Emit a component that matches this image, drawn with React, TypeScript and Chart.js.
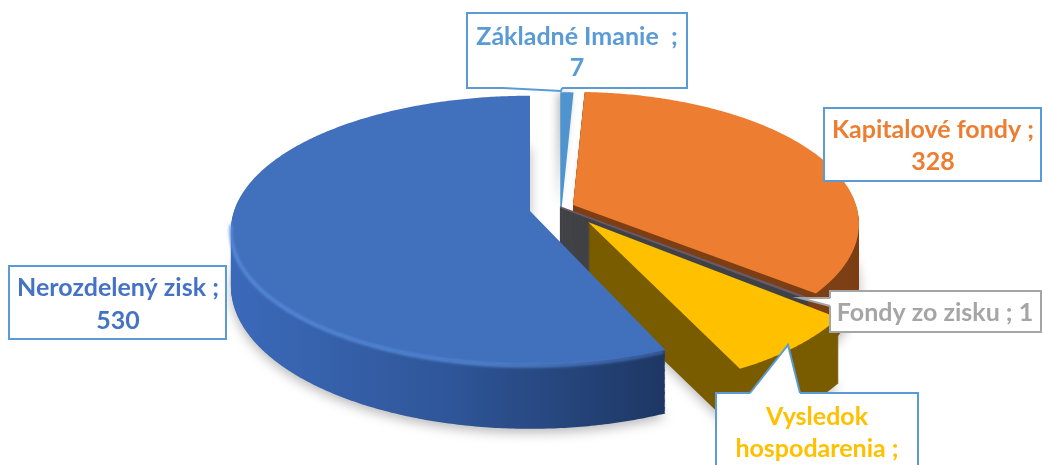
import React, { useEffect, useRef } from "react";
import { Chart, registerables } from "chart.js";

Chart.register(...registerables);

const categories = ["Základné Imanie", "Kapitalové fondy", "Fondy zo zisku", "Vysledok hospodarenia", "Nerozdelený zisk"];
const seriesValues = [7, 328, 1, 72, 530];
const labelColors = ["#5b9bd5", "#ed7d31", "#a5a5a5", "#ffc000", "#4472c4"];

const FONT = 'bold 25px Lato, "Open Sans", sans-serif';
const DEPTH_FACTOR = 7;

type Look = {
  ax: number; ay: number; r: number; s: number; h: number;
  top: string; wall: string | string[];
  m?: [number, number, number, number];
};

// Per-slice drawing look: explosion (apex on screen), radius, tilt, extrusion.
const looks: Look[] = [
  { ax: 561, ay: 207, r: 285, s: 0.457, h: 0, top: "#4f94cf", wall: "#3a6d9c" },
  { ax: 573, ay: 205, r: 283, s: 0.457, h: 58, top: "#ed7d31", wall: "#7d3f14" },
  { ax: 560, ay: 207, r: 288, s: 0.46, h: 62, top: "#6b5968", wall: "#404246" },
  { ax: 588, ay: 222, r: 1, s: 1, h: 65, top: "#ffc000", wall: "#7a5c00", m: [290, 40, -9.3, 164] },
  { ax: 530, ay: 211, r: 296, s: 0.445, h: 55, top: "#4170bd", wall: ["#3b69b9", "#2f5699", "#1e3764"] },
];
const drawOrder = [0, 1, 2, 3, 4];

function project(l: Look, a: number, dz = 0): [number, number] {
  const c = Math.cos(a);
  const sn = Math.sin(a);
  if (l.m) {
    return [l.ax + l.m[0] * c + l.m[1] * sn, l.ay + l.m[2] * c + l.m[3] * sn + dz];
  }
  const k = DEPTH_FACTOR / (DEPTH_FACTOR - sn);
  return [l.ax + l.r * c * k, l.ay + l.r * sn * l.s * k + dz * k];
}

function tracePie(ctx: CanvasRenderingContext2D, l: Look, a0: number, a1: number, dz: number) {
  const steps = Math.max(2, Math.ceil((a1 - a0) / 0.01));
  ctx.beginPath();
  ctx.moveTo(l.ax, l.ay + dz);
  for (let i = 0; i <= steps; i++) {
    const p = project(l, a0 + ((a1 - a0) * i) / steps, dz);
    ctx.lineTo(p[0], p[1]);
  }
  ctx.closePath();
}

const pie3d = {
  id: "pie3d",
  beforeDatasetDraw(chart: any) {
    const ctx: CanvasRenderingContext2D = chart.ctx;
    const arcs = chart.getDatasetMeta(0).data;
    for (const i of drawOrder) {
      const l = looks[i];
      const a0 = arcs[i].startAngle;
      const a1 = arcs[i].endAngle;
      const thin = a1 - a0 < 0.05;
      ctx.save();
      // extruded body: a stack of copies of the slice, bottom first
      if (Array.isArray(l.wall)) {
        const g = ctx.createLinearGradient(232, 0, 663, 0);
        l.wall.forEach((c, n) => g.addColorStop(n / (l.wall.length - 1), c));
        ctx.fillStyle = g;
      } else {
        ctx.fillStyle = l.wall;
        ctx.strokeStyle = l.wall;
        ctx.lineWidth = 1.5;
      }
      for (let dz = l.h; dz > 0; dz -= 1) {
        if (dz === l.h) {
          ctx.shadowColor = "rgba(0,0,0,0.28)";
          ctx.shadowBlur = 12;
          ctx.shadowOffsetY = 4;
        } else {
          ctx.shadowColor = "transparent";
        }
        tracePie(ctx, l, a0, a1, dz);
        ctx.fill();
        if (thin) ctx.stroke();
      }
      ctx.shadowColor = "transparent";
      // top
      if (l.h === 0) {
        // the narrowest slice only casts a faint shadow on the gap beside it
        ctx.shadowColor = "rgba(0,0,0,0.3)";
        ctx.shadowBlur = 10;
        ctx.shadowOffsetX = -3;
      }
      ctx.fillStyle = l.top;
      tracePie(ctx, l, a0, a1, 0);
      ctx.fill();
      ctx.shadowColor = "transparent";
      ctx.shadowOffsetX = 0;
      if (thin) {
        ctx.strokeStyle = l.top;
        ctx.lineWidth = 1.5;
        ctx.stroke();
      }
      // bevel highlight on the rim of the largest slice
      if (i === 4) {
        ctx.beginPath();
        const from = Math.PI * 0.97;
        let first = true;
        for (let a = from; a >= a0; a -= 0.01) {
          const p = project(l, a, 1);
          if (first) ctx.moveTo(p[0], p[1]);
          else ctx.lineTo(p[0], p[1]);
          first = false;
        }
        const g2 = ctx.createLinearGradient(232, 0, 663, 0);
        g2.addColorStop(0, "#5a8fdc");
        g2.addColorStop(0.6, "#5a8fdc");
        g2.addColorStop(1, "#3f68ad");
        ctx.strokeStyle = g2;
        ctx.lineWidth = 3;
        ctx.filter = "blur(1.5px)";
        ctx.stroke();
        ctx.filter = "none";
      }
      ctx.restore();
    }
    return false;
  },
};

type Callout = { box: [number, number, number, number]; border: string; cx: number; base: number[]; tip?: number[]; lines: string[]; };

function buildCallouts(): Callout[] {
  const t = categories.map((c, i) => `${c} ; ${seriesValues[i]}`);
  return [
    { box: [467, 13, 220, 75], border: "#5b9bd5", cx: 577, base: [45, 76], tip: [503, 88, 561, 91, 562, 88], lines: ["Základné Imanie  ;", String(seriesValues[0])] },
    { box: [824, 108, 217, 73], border: "#5b9bd5", cx: 933, base: [138, 170], lines: [`${categories[1]} ;`, String(seriesValues[1])] },
    { box: [830, 291, 211, 41], border: "#a5a5a5", cx: 935, base: [321], tip: [830, 298, 800, 298, 830, 306], lines: [t[2]] },
    { box: [716, 393, 202, 105], border: "#5b9bd5", cx: 817, base: [425, 457, 489], tip: [750, 393, 788, 345, 800, 393], lines: ["Vysledok", "hospodarenia ;", String(seriesValues[3])] },
    { box: [9, 266, 217, 73], border: "#5b9bd5", cx: 118, base: [296, 329], lines: [`${categories[4]} ;`, String(seriesValues[4])] },
  ];
}

const callouts = {
  id: "callouts",
  afterDraw(chart: any) {
    const ctx: CanvasRenderingContext2D = chart.ctx;
    buildCallouts().forEach((c, i) => {
      const [x, y, w, h] = c.box;
      ctx.save();
      ctx.fillStyle = "#ffffff";
      ctx.strokeStyle = c.border;
      ctx.lineWidth = 2;
      ctx.fillRect(x, y, w, h);
      ctx.strokeRect(x, y, w, h);
      if (c.tip) {
        const p = c.tip;
        // open the box border where the pointer joins it
        ctx.beginPath();
        ctx.moveTo(p[0], p[1]);
        ctx.lineTo(p[4], p[5]);
        ctx.strokeStyle = "#ffffff";
        ctx.lineWidth = 3;
        ctx.stroke();
        ctx.beginPath();
        ctx.moveTo(p[0], p[1]);
        ctx.lineTo(p[2], p[3]);
        ctx.lineTo(p[4], p[5]);
        ctx.fill();
        ctx.strokeStyle = c.border;
        ctx.lineWidth = 2;
        ctx.stroke();
      }
      ctx.fillStyle = labelColors[i];
      ctx.font = FONT;
      ctx.textAlign = "center";
      ctx.textBaseline = "alphabetic";
      c.lines.forEach((line, n) => ctx.fillText(line, c.cx, c.base[n]));
      ctx.restore();
    });
  },
};

export default function App() {
  const ref = useRef<HTMLCanvasElement>(null);
  useEffect(() => {
    document.body.style.margin = "0";
    const chart = new Chart(ref.current!, {
      type: "pie",
      data: {
        labels: categories,
        datasets: [{ data: seriesValues, backgroundColor: labelColors, borderWidth: 0 }],
      },
      options: {
        responsive: false,
        animation: false,
        plugins: { legend: { display: false }, tooltip: { enabled: false } },
      },
      plugins: [pie3d, callouts],
    } as any);
    return () => chart.destroy();
  }, []);
  return <canvas ref={ref} width={1042} height={465} style={{ display: "block", width: 1042, height: 465 }} />;
}
